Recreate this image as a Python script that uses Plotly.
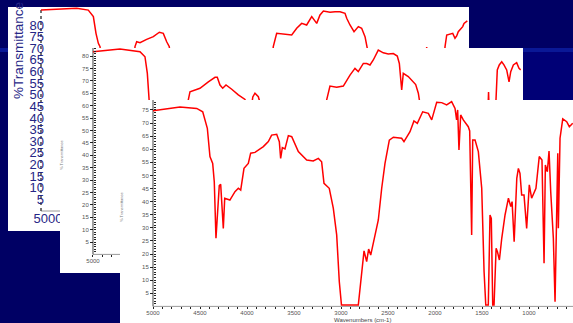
import plotly.graph_objects as go

# ---------------- data ----------------
# front spectrum (panel 3)
p3_wn = [5000, 4713, 4535, 4471, 4422, 4394, 4365, 4348, 4330, 4309,
         4295, 4280, 4266, 4252, 4237, 4182, 4128, 4092, 4067, 4032,
         3986, 3961, 3915, 3826, 3773, 3738, 3684, 3656, 3642, 3624,
         3596, 3560, 3524, 3454, 3365, 3295, 3241, 3206, 3181, 3125,
         3082, 3046, 3018, 2995, 2816, 2780, 2755, 2727, 2706, 2684,
         2656, 2603, 2567, 2532, 2486, 2443, 2355, 2330, 2266, 2224,
         2188, 2131, 2071, 2035, 1982, 1929, 1876, 1823, 1787, 1770,
         1759, 1745, 1727, 1699, 1646, 1631, 1610, 1599, 1574, 1539,
         1503, 1478, 1460, 1433, 1415, 1401, 1386, 1372, 1350, 1336,
         1315, 1290, 1255, 1219, 1194, 1180, 1158, 1130, 1113, 1096,
         1078, 1053, 1025, 997, 972, 926, 891, 862, 840, 826,
         805, 787, 769, 741, 723, 705, 694, 688, 670, 641,
         599, 571, 535]
p3_T = [74.7, 76.1, 75.6, 74.3, 68, 57.2, 54.6, 47.6, 26, 38.7,
        46.1, 46.6, 38.7, 29.8, 41.3, 40.6, 43.8, 45.1, 44.4, 52.7,
        54.6, 58.5, 58.8, 61, 62.9, 65.4, 65.7, 62.9, 56.5, 60.6,
        60.1, 65.2, 64.8, 59.1, 55.9, 55.5, 56.5, 55.2, 47, 45.1,
        37.5, 27.3, 9.4, 0.5, 0.5, 12, 21.2, 17.1, 21.9, 19.6,
        24.7, 33, 45.1, 54.6, 63.5, 64.6, 64.2, 62.9, 66.7, 70.8,
        69.9, 74.3, 73.7, 71.2, 77.9, 77.8, 76.9, 78.2, 75.6, 71.2,
        75, 59.7, 73.1, 71.2, 68.6, 67, 27.3, 63.5, 63.5, 59.1,
        45.1, 13.3, 0.5, 0.5, 34.9, 33.6, 0.5, 0.5, 22.2, 20.9,
        17.7, 26, 34.9, 41.3, 38.1, 40, 24.7, 48.9, 52.7, 50.8,
        42.5, 42.5, 29.8, 46.4, 41.3, 45.1, 57.2, 55.9, 16.5, 54,
        51.4, 59.3, 43.8, 26, 1.8, 29.8, 58.5, 29.8, 64.2, 71.6,
        70.5, 68.6, 69.9]

# middle spectrum (panel 2) - only the visible pieces (None = hidden gap)
p2_wn = [5000, 4713, 4500, 4447, 4422, 4401, 4390, None,
         4000, 3986, 3968, 3862, 3773, 3702, 3678, 3649, 3620, 3585, 3524, 3454, 3383, 3360, None,
         3320, 3300, 3277, 3241, 3215, None,
         2530, 2514, 2479, 2408, 2337, 2266, 2213, 2178, 2124, 2088, 2053, 2018, 1965, 1912,
         1859, 1805, 1763, 1741, 1716, 1699, 1646, 1593, 1567, 1539, 1528, 1520, None,
         800, 792, 784, None,
         720, 713, 699, 678, 652, 628, 599, 574, 556, 528, 493, 468, 450]
p2_T = [81.7, 82.8, 81.7, 79.7, 73, 62.3, 55, None,
        55, 62.3, 65.6, 67, 69.6, 71.4, 71.4, 68.3, 67, 68.3, 66.6, 64.3, 62.5, 58, None,
        58, 63.5, 65, 63.6, 60, None,
        56, 62.3, 67.9, 67.4, 67.9, 72.3, 75, 73.7, 77, 77, 76.4, 78.4, 82.4, 81.3,
        80.8, 81, 80, 77, 66.3, 73, 71.7, 69.6, 68.5, 65, 62.3, 56, None,
        56, 65.5, 56, None,
        56, 62.3, 74.4, 76.4, 77.7, 76.4, 74.4, 69.6, 73.7, 76.4, 77.3, 75, 74.4]

# back spectrum (panel 1) - only the visible pieces
p1_wn = [5000, 4620, 4497, 4443, 4415, 4390, 4372, 4360, None,
         4010, 4000, 3982, 3947, 3876, 3805, 3741, 3699, 3663, 3635, 3625, None,
         2540, 2529, 2493, 2387, 2333, 2280, 2227, 2174, 2120, 2067, 2032, 1996, 1925,
         1872, 1819, 1766, 1748, 1713, 1670, 1624, 1589, 1553, 1529, 1520, None,
         905, 897, 890, None,
         712, 702, 684, 649, 620, 596, 578, 561, 535, 514, 500, 479, 465]
p1_T = [86.4, 87.2, 86.4, 83.6, 76.4, 72.1, 70.7, 65, None,
        65, 70.7, 72.8, 72.4, 73.8, 75, 76.9, 76.4, 72.8, 70.7, 65, None,
        65, 70.7, 76.4, 76, 75.7, 78.6, 80.7, 80, 83.6, 80.7, 84.3, 86, 85.5,
        85.7, 85.7, 85, 82.9, 80, 77.1, 79.3, 78.6, 75, 70, 65, None,
        65, 70.5, 65, None,
        65, 70.7, 75.7, 76.1, 76.4, 74.3, 75.3, 77.1, 78.6, 79.3, 80.7, 81.4, 81.8]

y_ticks = [5, 10, 15, 20, 25, 30, 35, 40, 45, 50, 55, 60, 65, 70, 75, 80]
x_ticks = [5000, 4500, 4000, 3500, 3000, 2500, 2000, 1500, 1000, 500]
x_minor = list(range(5000, 400, -100))
y_title = "%Transmittance"
small_title = "% Transmittance"
x_title = "Wavenumbers (cm-1)"

# ---------------- layout helpers ----------------
W, H = 573, 323
FONT = "Liberation Sans, Arial, sans-serif"
NAVY_TXT = "#262686"
GREY_TXT = "#555555"
RED = "#ff0000"


def fx(p):
    return p / W


def fy(p):
    return 1 - p / H


# panel geometry: white box (px), y axis x (px), x axis y (px), x range, y range
panels = [
    dict(box=(8, 7, 469, 231), xr=[5351, 447], yr=[-8.6, 87.74], yax=41, xax=211),
    dict(box=(60, 48, 523, 273), xr=[5351, 425.5], yr=[-7.5, 83.23], yax=93, xax=254.4),
    dict(box=(120, 100, 573, 323), xr=[5351, 532], yr=[-6.34, 78.8], yax=153, xax=306.4),
]
series = [(p1_wn, p1_T), (p2_wn, p2_T), (p3_wn, p3_T)]

fig = go.Figure()
shapes = []
# slide background
shapes.append(dict(type="rect", xref="paper", yref="paper", x0=0, x1=1,
                   y0=fy(52), y1=fy(48), fillcolor="#0a1896", line_width=0, layer="below"))
shapes.append(dict(type="rect", xref="paper", yref="paper", x0=fx(523), x1=1,
                   y0=fy(100), y1=fy(52), fillcolor="#000076", line_width=0, layer="below"))

for i, (p, (wn, t)) in enumerate(zip(panels, series)):
    n = "" if i == 0 else str(i + 1)
    xa, ya = "x" + n, "y" + n
    fig.add_trace(go.Scatter(x=wn, y=t, xaxis=xa, yaxis=ya, mode="lines",
                             line=dict(color=RED, width=1.5), connectgaps=False,
                             hoverinfo="skip", showlegend=False))
    x0, y0, x1, y1 = p["box"]
    big = (i == 0)
    xaxis = dict(domain=[fx(x0), fx(x1)], range=p["xr"], anchor="free",
                 position=fy(p["xax"]), showgrid=False, zeroline=False, showline=False,
                 tickmode="array",
                 tickvals=[5000] if big else x_ticks,
                 tickfont=dict(family=FONT, size=13 if big else 6,
                               color=NAVY_TXT if big else GREY_TXT),
                 ticks="" if big else "outside", ticklen=2, tickwidth=1, tickcolor="#222222")
    if big:
        xaxis["ticklabelshift"] = -7
        xaxis["ticklabelstandoff"] = -2
    else:
        xaxis["ticklabelstandoff"] = -2
        xaxis["minor"] = dict(tickmode="array", tickvals=x_minor, ticks="outside",
                              ticklen=2, tickwidth=1, tickcolor="#222222")
    yaxis = dict(domain=[fy(y1), fy(y0)], range=p["yr"], anchor="free",
                 position=fx(p["yax"]), showgrid=False, zeroline=False, showline=False,
                 tickmode="array", tickvals=y_ticks,
                 tickfont=dict(family=FONT, size=13 if big else 6,
                               color=NAVY_TXT if big else GREY_TXT),
                 ticks="" if big else "outside", ticklen=3, tickwidth=1, tickcolor="#222222")
    if big:
        yaxis["ticklabelstandoff"] = -3
    else:
        yaxis["minor"] = dict(tickmode="array", tickvals=list(range(1, int(p["yr"][1]) + 1)),
                              ticks="inside", ticklen=2, tickwidth=1, tickcolor="#222222")
    fig.update_layout({("xaxis" + n): xaxis, ("yaxis" + n): yaxis})

    # white panel, drawn inside the subplot layer
    shapes.append(dict(type="rect", xref=xa, yref=ya, x0=p["xr"][0], x1=p["xr"][1],
                       y0=p["yr"][0], y1=p["yr"][1], fillcolor="white",
                       line_width=0, layer="below"))
    # axis lines
    shapes.append(dict(type="line", xref=xa, yref=ya, x0=5000, x1=p["xr"][1], y0=0, y1=0,
                       line=dict(color="#9a9a9a", width=1), layer="below"))
    shapes.append(dict(type="line", xref=xa, yref=ya, x0=5000, x1=5000, y0=0, y1=p["yr"][1],
                       line=dict(color="#444444", width=1.5 if big else 1,
                                 dash="dot" if big else "solid"), layer="below"))

annotations = [
    dict(text=y_title, xref="paper", yref="paper", x=fx(18), y=fy(51), showarrow=False,
         xanchor="center", yanchor="middle",
         textangle=-90, font=dict(family=FONT, size=13.5, color=NAVY_TXT)),
    dict(text=small_title, xref="paper", yref="paper", x=fx(61), y=fy(155), showarrow=False,
         xanchor="center", yanchor="middle",
         textangle=-90, font=dict(family=FONT, size=4, color="#777777")),
    dict(text=small_title, xref="paper", yref="paper", x=fx(121), y=fy(207), showarrow=False,
         xanchor="center", yanchor="middle",
         textangle=-90, font=dict(family=FONT, size=4, color="#777777")),
    dict(text=x_title, xref="paper", yref="paper", x=fx(363), y=fy(319.5), showarrow=False,
         xanchor="center", yanchor="middle",
         font=dict(family=FONT, size=6, color="#444444")),
]

fig.update_layout(width=W, height=H, margin=dict(l=0, r=0, t=0, b=0, pad=0),
                  paper_bgcolor="#000064", plot_bgcolor="rgba(0,0,0,0)",
                  shapes=shapes, annotations=annotations, showlegend=False,
                  hovermode=False)

fig.write_html("out.html")
